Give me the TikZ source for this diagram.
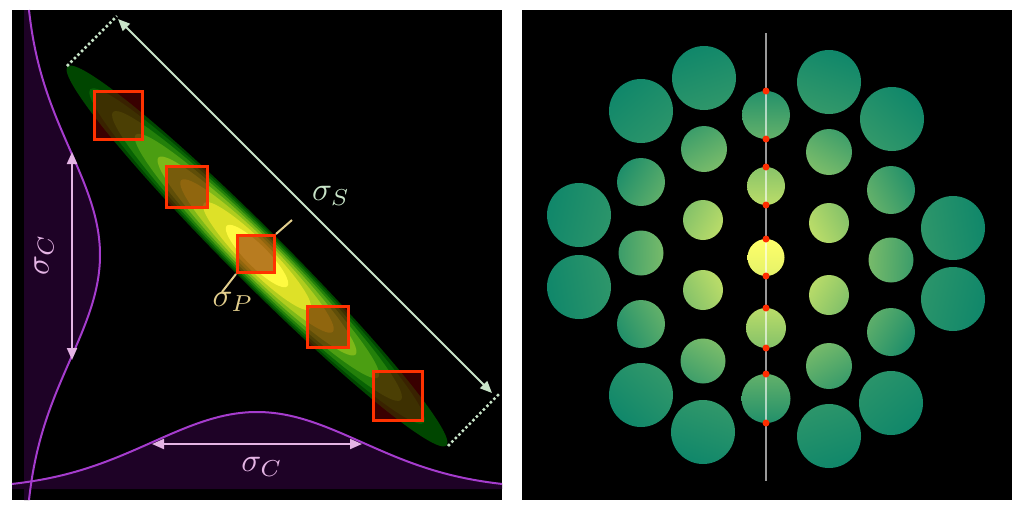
\documentclass[tikz,border=0pt]{standalone}
\usetikzlibrary{arrows.meta}
\definecolor{gpurple}{RGB}{165,60,205}
\definecolor{gfill}{RGB}{30,2,38}
\definecolor{gpink}{RGB}{228,180,228}
\definecolor{spale}{RGB}{200,228,200}
\definecolor{ptan}{RGB}{225,205,140}
\definecolor{sqred}{RGB}{255,50,0}
\definecolor{dotred}{RGB}{255,45,0}
\definecolor{dotyel}{RGB}{255,255,105}
\definecolor{dotteal}{RGB}{16,135,106}
\definecolor{eg1}{RGB}{0,70,0}
\definecolor{eg2}{RGB}{8,98,4}
\definecolor{eg3}{RGB}{35,128,10}
\definecolor{eg4}{RGB}{75,158,18}
\definecolor{eg5}{RGB}{125,185,25}
\definecolor{eg6}{RGB}{175,205,30}
\definecolor{eg7}{RGB}{222,225,40}
\definecolor{eg8}{RGB}{255,250,65}
\begin{document}
\begin{tikzpicture}[
    x=1pt, y=-1pt,
    lbl/.style={scale=3.3, inner sep=0pt},
    gcurve/.style={gpurple, line width=2pt},
    pinkarr/.style={gpink, line width=2pt,
                    {Triangle[length=12pt,width=10pt]}-{Triangle[length=12pt,width=10pt]}},
    sarr/.style={spale, line width=2pt,
                 {Triangle[length=12pt,width=10pt]}-{Triangle[length=12pt,width=10pt]}},
    dotline/.style={spale, line width=2.5pt, dash pattern=on 2.5pt off 2.5pt},
    sqbox/.style={draw=sqred, line width=3pt, fill=red!45!black,
                  fill opacity=0.5, inner sep=0pt},
    vline/.style={white, opacity=0.6, line width=2pt}
  ]
  \fill[white] (0,0) rectangle (1024,512);
  \useasboundingbox (0,0) rectangle (1024,512);
  % panels
  \fill[black] (12,10) rectangle (502,500);
  \fill[black] (522,10) rectangle (1012,500);

  % marginal gaussians
  \fill[gfill] (24,10) -- plot[domain=10:500, samples=100, variable=\t]
    ({24+76*exp(-0.5*((\t-255)/105)^2)}, {\t}) -- (24,500) -- cycle;
  \fill[gfill] (12,489) -- plot[domain=12:502, samples=100, variable=\t]
    ({\t}, {489-77*exp(-0.5*((\t-257)/105)^2)}) -- (502,489) -- cycle;
  \draw[gcurve] plot[domain=10:500, samples=100, variable=\t]
    ({24+76*exp(-0.5*((\t-255)/105)^2)}, {\t});
  \draw[gcurve] plot[domain=12:502, samples=100, variable=\t]
    ({\t}, {489-77*exp(-0.5*((\t-257)/105)^2)});

  \coordinate (cv1) at (72,152);
  \coordinate (cv2) at (72,360);
  \coordinate (ch1) at (152,444);
  \coordinate (ch2) at (362,444);
  \draw[pinkarr] (cv1) -- (cv2);
  \draw[pinkarr] (ch1) -- (ch2);
  \node[lbl, gpink, rotate=90] (sigcl) at (44,255) {$\sigma_C$};
  \node[lbl, gpink] (sigcb) at (262,467) {$\sigma_C$};

  % joint distribution
  \foreach \f/\col in {1/eg1, 0.88/eg2, 0.76/eg3, 0.64/eg4,
                       0.52/eg5, 0.40/eg6, 0.28/eg7, 0.16/eg8} {
    \pgfmathsetmacro\ra{268*\f}
    \pgfmathsetmacro\rb{27*\f^0.5}
    \fill[\col, rotate around={-45:(257,256)}]
      (257,256) ellipse[x radius=\ra, y radius=\rb];
  }

  % sigma_P
  \node[sqbox, minimum size=37pt] (sq3) at (256,254) {};
  \coordinate (p1) at (292,220);
  \coordinate (p2) at (222,292);
  \draw[ptan, line width=2pt] (p1) -- (sq3.north east);
  \draw[ptan, line width=2pt] (p2) -- (sq3.south west);
  \node[lbl, ptan] (sigp) at (233,302) {$\sigma_P$};

  % windows
  \foreach \n/\x/\y/\s in {1/118/115/48, 2/187/187/41, 4/328/327/41, 5/398/396/49} {
    \node[sqbox, minimum size=\s pt] (sq\n) at (\x,\y) {};
  }
  \node[sqbox, minimum size=37pt, fill opacity=0] at (sq3) {};

  % sigma_S
  \coordinate (tipa) at (67,66);
  \coordinate (tipb) at (448,446);
  \coordinate (enda) at (117,16);
  \coordinate (endb) at (499,394);
  \coordinate (sa) at (118,19);
  \coordinate (sb) at (492,393);
  \draw[dotline] (tipa) -- (enda);
  \draw[dotline] (tipb) -- (endb);
  \draw[sarr] (sa) -- (sb);
  \node[lbl, spale] (sigs) at (331,196) {$\sigma_S$};

  % right panel: circles
  \foreach \cx/\cy/\r in {704/78/32, 641/111/32, 704/149/23, 641/182/24,
      579/215/32, 703/220/20, 641/253/22.5, 579/287/32, 703/290/20,
      641/324/24, 703/361/22.5, 641/395/32, 703/432/32,
      829/82/32, 892/119/32, 829/152/23, 891/190/24, 829/223/20,
      953/228/32, 891/260/22.5, 953/299/32, 829/295/20, 891/332/24,
      829/366/23, 891/403/32, 829/436/32,
      766/115/24, 766/186/19, 766/257.5/18.5, 766/328/20, 766/398.5/24.5} {
    \pgfmathsetmacro\dd{100*veclen((\cx-766)/100,(\cy-256)/100)}
    \pgfmathsetmacro\pn{min(100,max(0,(\dd-\r)/1.8))}
    \pgfmathsetmacro\pf{min(100,max(0,(\dd+\r)/1.8))}
    \pgfmathsetmacro\ang{atan2(\cy-256,766-\cx)-90}
    \colorlet{cnear}{dotteal!\pn!dotyel}
    \colorlet{cfar}{dotteal!\pf!dotyel}
    \shade[top color=cnear, bottom color=cfar, shading angle=\ang]
      (\cx,\cy) circle[radius=\r];
  }

  % centre line
  \coordinate (vtop) at (766,33);
  \coordinate (vbot) at (766,481);
  \draw[vline] (vtop) -- (vbot);
  \foreach \cy/\r in {115/24, 186/19, 257.5/18.5, 328/20, 398.5/24.5} {
    \fill[dotred] (766,{\cy-\r}) circle[radius=3.5];
    \fill[dotred] (766,{\cy+\r}) circle[radius=3.5];
  }
\end{tikzpicture}
\end{document}
